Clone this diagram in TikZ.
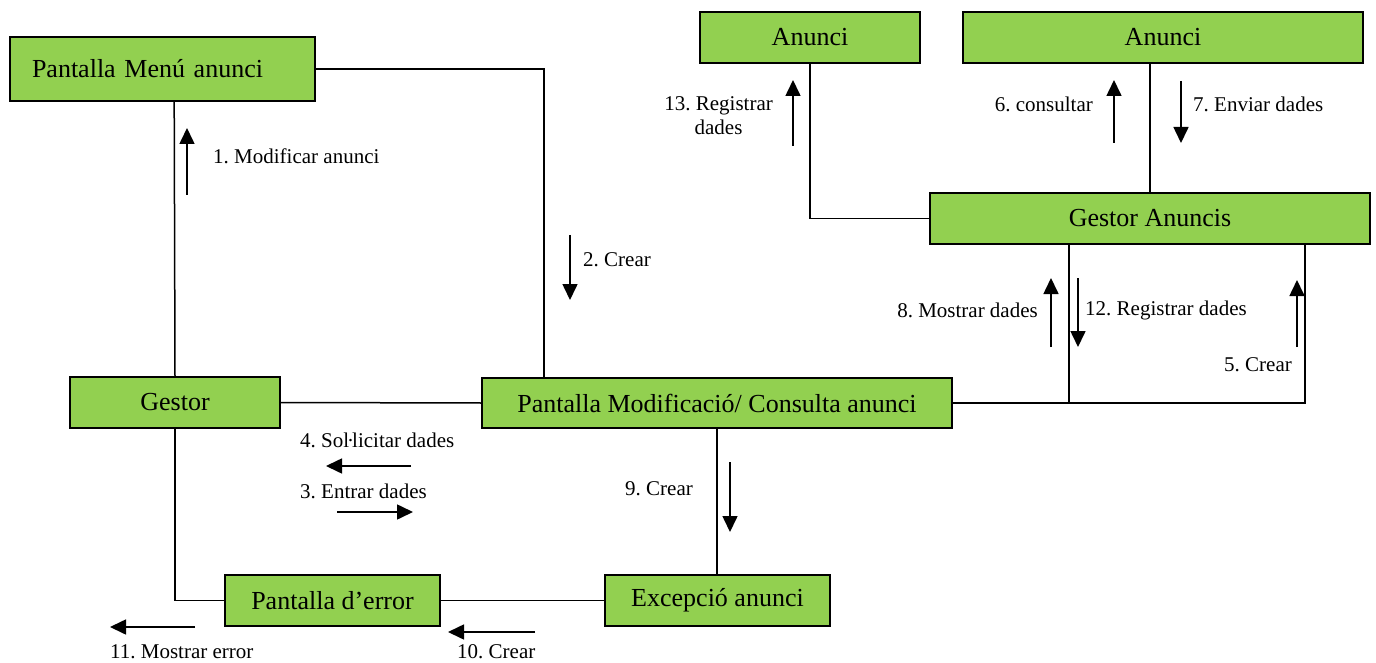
\documentclass[tikz,border=0pt]{standalone}
\usepackage{fontspec}
\setmainfont{Liberation Serif}
\usetikzlibrary{arrows.meta}
\definecolor{boxgreen}{RGB}{146,208,80}
\frenchspacing
\begin{document}
\begin{tikzpicture}[x=1pt,y=-1pt,
  box/.style={draw=black,line width=1.6pt,fill=boxgreen,inner sep=0pt,
    font=\fontsize{26}{30}\selectfont},
  lbl/.style={font=\fontsize{21}{24}\selectfont,inner sep=0pt},
  conn/.style={line width=1.5pt},
  msg/.style={line width=1.6pt,-{Triangle[width=15pt,length=16pt]}}]
\useasboundingbox (0,0) rectangle (1376,663);
% boxes
\node[box,minimum width=305pt,minimum height=64pt,text width=261pt,align=left] (PMA) at (162.5,69) {Pantalla Menú anunci};
\node[box,minimum width=220pt,minimum height=51pt] (A1) at (810,37.5) {Anunci};
\node[box,minimum width=400pt,minimum height=51pt] (A2) at (1163,37.5) {Anunci};
\node[box,minimum width=440pt,minimum height=51pt] (GA) at (1150,218.5) {Gestor Anuncis};
\node[box,minimum width=210pt,minimum height=51pt] (G) at (175,402.5) {Gestor};
\node[box,minimum width=470pt,minimum height=50pt] (PMC) at (717,403) {Pantalla Modificació/ Consulta anunci};
\node[box,minimum width=215pt,minimum height=51pt] (PE) at (332.5,600.5) {Pantalla d’error};
\node[box,minimum width=225pt,minimum height=51pt] (EA) at (717.5,600.5) {Excepció anunci};
% junction coordinates
\coordinate (j1) at ([xshift=140pt]GA.south west |- PMC.east);
\coordinate (j1t) at ([xshift=140pt]GA.south west);
% connectors
\draw[conn] (PMA.east) -| ([xshift=63pt]PMC.north west);
\draw[conn] ([xshift=165pt]PMA.south west) -- (G.north);
\draw[conn] (G.east) -- (PMC.west);
\draw[conn] (G.south) |- (PE.west);
\draw[conn] (PE.east) -- (EA.west);
\draw[conn] (PMC.south) -- (PMC.south |- EA.north);
\draw[conn] (PMC.east) -| ([xshift=-66pt]GA.south east);
\draw[conn] (j1) -- (j1t);
\draw[conn] (GA.west) -| (A1.south);
\draw[conn] ([xshift=-13pt]A2.south) -- ([xshift=-13pt]A2.south |- GA.north);
% message arrows
\coordinate (m1a) at (187,195); \coordinate (m1b) at (187,128);
\draw[msg] (m1a) -- (m1b);
\node[lbl,anchor=west] (l1) at (213,156) {1. Modificar anunci};
\coordinate (m2a) at (570,235); \coordinate (m2b) at (570,300);
\draw[msg] (m2a) -- (m2b);
\node[lbl,anchor=west] (l2) at (583,260) {2. Crear};
\coordinate (m4a) at (411,466); \coordinate (m4b) at (326,466);
\draw[msg] (m4a) -- (m4b);
\node[lbl,anchor=west] (l4) at (300,440) {4. Sol\kern-2pt·\kern-2pt licitar dades};
\coordinate (m3a) at (337,512); \coordinate (m3b) at (413,512);
\draw[msg] (m3a) -- (m3b);
\node[lbl,anchor=west] (l3) at (300,491) {3. Entrar dades};
\coordinate (m9a) at (730,462); \coordinate (m9b) at (730,532);
\draw[msg] (m9a) -- (m9b);
\node[lbl,anchor=west] (l9) at (625,489) {9. Crear};
\coordinate (m10a) at (535,632); \coordinate (m10b) at (448,632);
\draw[msg] (m10a) -- (m10b);
\node[lbl,anchor=west] (l10) at (457,652) {10. Crear};
\coordinate (m11a) at (195,627); \coordinate (m11b) at (110,627);
\draw[msg] (m11a) -- (m11b);
\node[lbl,anchor=west] (l11) at (110,652) {11. Mostrar error};
\coordinate (m8a) at (1051,347); \coordinate (m8b) at (1051,278);
\draw[msg] (m8a) -- (m8b);
\node[lbl,anchor=east] (l8) at (1038,310) {8. Mostrar dades};
\coordinate (m12a) at (1078,278); \coordinate (m12b) at (1078,347);
\draw[msg] (m12a) -- (m12b);
\node[lbl,anchor=west] (l12) at (1085,310) {12. Registrar dades};
\coordinate (m5a) at (1297,347); \coordinate (m5b) at (1297,280);
\draw[msg] (m5a) -- (m5b);
\node[lbl,anchor=east] (l5) at (1292,365) {5. Crear};
\coordinate (m13a) at (793,146); \coordinate (m13b) at (793,80);
\draw[msg] (m13a) -- (m13b);
\node[lbl,anchor=east,align=center] (l13) at (773,116) {13. Registrar\\dades};
\coordinate (m6a) at (1114,143); \coordinate (m6b) at (1114,80);
\draw[msg] (m6a) -- (m6b);
\node[lbl,anchor=east] (l6) at (1093,104) {6. consultar};
\coordinate (m7a) at (1181,81); \coordinate (m7b) at (1181,143);
\draw[msg] (m7a) -- (m7b);
\node[lbl,anchor=west] (l7) at (1193,104) {7. Enviar dades};
\end{tikzpicture}
\end{document}
